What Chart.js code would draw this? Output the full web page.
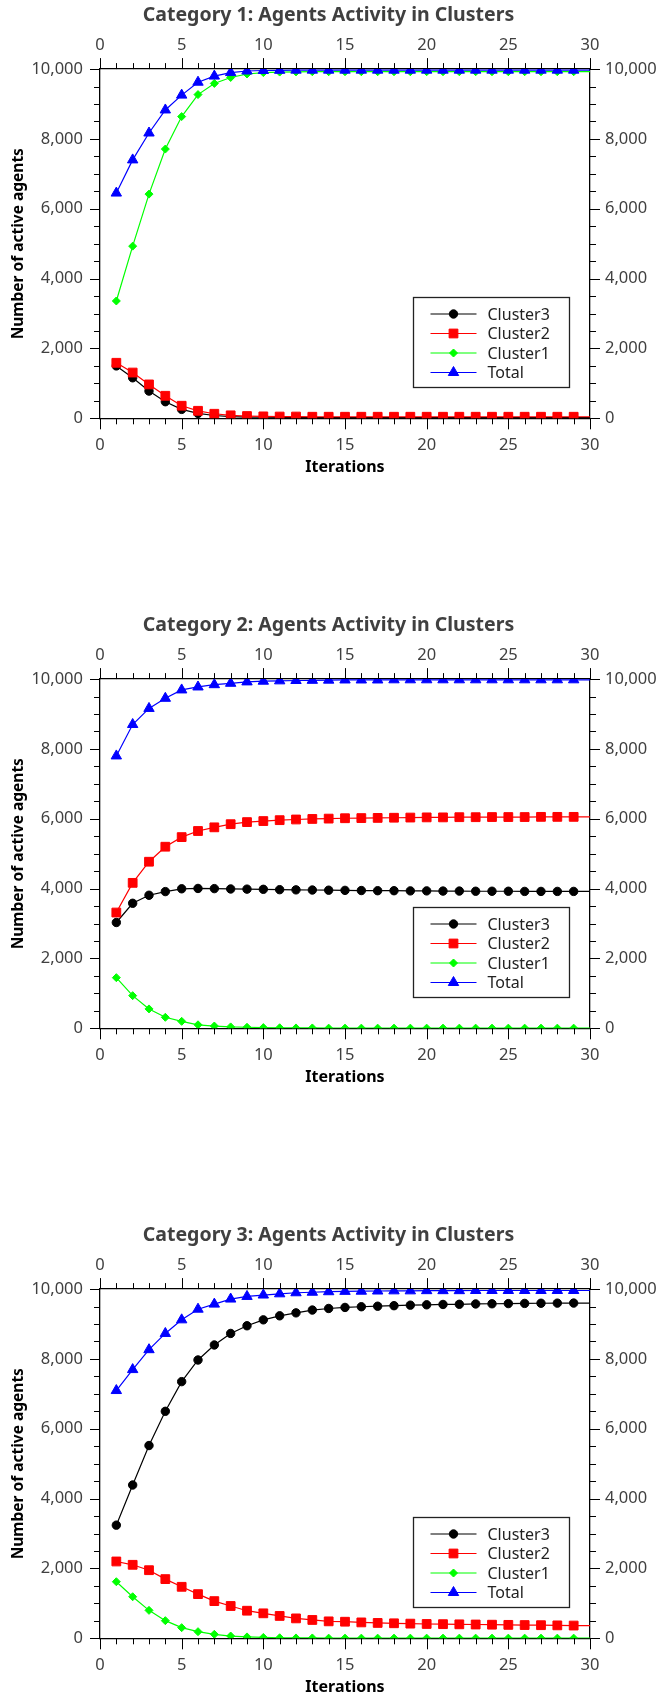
<!DOCTYPE html>
<html>
<head>
<meta charset="utf-8">
<script src="https://cdn.jsdelivr.net/npm/chart.js@4.4.1/dist/chart.umd.min.js"></script>
<style>
	body { margin: 0; background: #fff; }
	#wrap { width: 657px; height: 1696px; overflow: hidden; }
	canvas { display: block; }
</style>
</head>
<body>
<div id="wrap">
	<canvas id="chart1" width="657" height="610"></canvas>
	<canvas id="chart2" width="657" height="610"></canvas>
	<canvas id="chart3" width="657" height="610"></canvas>
</div>
<script>
// iterations on the x axis
const iterations = [1,2,3,4,5,6,7,8,9,10,11,12,13,14,15,16,17,18,19,20,21,22,23,24,25,26,27,28,29,30];
const seriesNames = ['Cluster3', 'Cluster2', 'Cluster1', 'Total'];
const titles = [
	'Category 1: Agents Activity in Clusters',
	'Category 2: Agents Activity in Clusters',
	'Category 3: Agents Activity in Clusters'
];
const xTickLabels = [0, 5, 10, 15, 20, 25, 30];
const yTickLabels = [0, 2000, 4000, 6000, 8000, 10000];

// category 1
const cat1Cluster3 = [1500,1160,780,475,255,140,80,50,35,30,25,25,20,20,20,20,20,20,20,20,20,20,20,20,20,20,20,20,20,20];
const cat1Cluster2 = [1590,1310,970,645,360,215,130,85,65,55,50,50,45,45,45,45,45,45,45,45,45,45,45,45,45,45,45,45,45,45];
const cat1Cluster1 = [3360,4930,6420,7710,8640,9270,9590,9760,9860,9900,9915,9920,9925,9925,9925,9925,9925,9925,9925,9925,9925,9925,9925,9925,9925,9925,9925,9925,9925,9925];
const cat1Total = [6450,7400,8170,8830,9255,9625,9800,9900,9945,9960,9965,9970,9970,9970,9970,9970,9970,9970,9970,9970,9970,9970,9970,9970,9970,9970,9970,9970,9970,9970];

// category 2
const cat2Cluster3 = [3030,3580,3810,3915,3995,4005,4000,3990,3985,3980,3970,3965,3960,3955,3950,3945,3940,3940,3935,3935,3930,3930,3925,3925,3925,3920,3920,3920,3920,3920];
const cat2Cluster2 = [3315,4165,4770,5200,5475,5650,5755,5845,5905,5935,5960,5980,5995,6005,6015,6020,6025,6030,6035,6040,6040,6045,6045,6050,6050,6050,6055,6055,6055,6055];
const cat2Cluster1 = [1450,935,555,315,200,100,65,40,30,20,15,10,10,5,5,5,5,5,5,5,5,5,5,5,5,5,5,5,5,5];
const cat2Total = [7800,8700,9160,9450,9690,9775,9840,9880,9920,9940,9950,9960,9965,9970,9975,9975,9975,9980,9980,9980,9980,9980,9980,9980,9980,9980,9980,9980,9980,9980];

// category 3
const cat3Cluster3 = [3240,4390,5520,6500,7350,7970,8400,8730,8950,9120,9235,9320,9400,9445,9475,9495,9510,9525,9540,9550,9560,9565,9575,9580,9585,9590,9595,9598,9600,9600];
const cat3Cluster2 = [2200,2105,1950,1695,1475,1265,1065,925,790,715,640,570,525,485,475,455,440,430,420,410,405,400,395,390,385,380,375,370,365,365];
const cat3Cluster1 = [1620,1190,800,505,305,190,115,65,40,25,15,10,10,5,5,5,5,5,5,5,5,5,5,5,5,5,5,5,5,5];
const cat3Total = [7095,7695,8265,8730,9120,9425,9570,9715,9790,9830,9865,9895,9910,9925,9935,9940,9945,9950,9950,9955,9955,9955,9960,9960,9960,9960,9960,9960,9960,9960];

const categories = [
	[cat1Cluster3, cat1Cluster2, cat1Cluster1, cat1Total],
	[cat2Cluster3, cat2Cluster2, cat2Cluster1, cat2Total],
	[cat3Cluster3, cat3Cluster2, cat3Cluster1, cat3Total]
];

const colors = ['#000000', '#ff0000', '#00ff00', '#0000ff'];
const pointStyles = ['circle', 'rect', 'rectRot', 'triangle'];
const pointSizes = [4.2, 6.2, 4, 6];

const fontFamily = "'Noto Sans', 'DejaVu Sans', sans-serif";
Chart.defaults.font.family = fontFamily;

// outward tick marks, long ones at labelled values
const tickMarks = {
	id: 'tickMarks',
	afterDraw(chart) {
		const ctx = chart.ctx;
		ctx.save();
		ctx.strokeStyle = '#000';
		ctx.lineWidth = 1;
		for (let scale of Object.values(chart.scales)) {
			let horiz = scale.isHorizontal();
			let major = horiz ? 5 : 2000;
			for (let t of scale.ticks) {
				let p = Math.round(scale.getPixelForValue(t.value)) + 0.5;
				let len = t.value % major === 0 ? (horiz ? 11 : 10) : 6;
				ctx.beginPath();
				if (scale.position === 'bottom') { ctx.moveTo(p, scale.top); ctx.lineTo(p, scale.top + len); }
				else if (scale.position === 'top') { ctx.moveTo(p, scale.bottom); ctx.lineTo(p, scale.bottom - len); }
				else if (scale.position === 'left') { ctx.moveTo(scale.right, p); ctx.lineTo(scale.right - len, p); }
				else { ctx.moveTo(scale.left, p); ctx.lineTo(scale.left + len, p); }
				ctx.stroke();
			}
		}
		ctx.restore();
	}
};

// boxed legend inside the plot, lower right
const boxLegend = {
	id: 'boxLegend',
	afterDraw(chart) {
		const ctx = chart.ctx;
		const area = chart.chartArea;
		const w = 156, h = 90;
		const x0 = Math.round(area.right - 21 - w) + 0.5;
		const y0 = Math.round(area.bottom - 31 - h) + 0.5;
		ctx.save();
		ctx.fillStyle = '#fff';
		ctx.fillRect(x0, y0, w, h);
		ctx.strokeStyle = '#222';
		ctx.lineWidth = 1.3;
		ctx.strokeRect(x0, y0, w, h);
		chart.data.datasets.forEach((ds, i) => {
			let y = y0 + 16.5 + i * 19.5;
			ctx.strokeStyle = ds.borderColor;
			ctx.lineWidth = 1.2;
			ctx.beginPath();
			ctx.moveTo(x0 + 17, y);
			ctx.lineTo(x0 + 63, y);
			ctx.stroke();
			ctx.fillStyle = ds.borderColor;
			ctx.lineWidth = 1;
			Chart.helpers.drawPoint(ctx, {
				pointStyle: ds.pointStyle,
				radius: pointSizes[i],
				rotation: 0,
				borderWidth: 1
			}, x0 + 40, y);
			ctx.fillStyle = '#222';
			ctx.font = '16px ' + fontFamily;
			ctx.textBaseline = 'middle';
			ctx.textAlign = 'left';
			ctx.fillText(ds.label, x0 + 74, y + 1);
		});
		ctx.restore();
	}
};

function xAxis(pos) {
	return {
		type: 'linear',
		position: pos,
		min: 0,
		max: 30,
		border: { color: '#000', width: 1.3 },
		grid: { drawOnChartArea: false, drawTicks: false },
		ticks: {
			stepSize: 1,
			autoSkip: false,
			maxRotation: 0,
			padding: pos === 'bottom' ? 17 : 14,
			color: '#404040',
			font: { size: 16.5 },
			callback: v => xTickLabels.includes(v) ? String(v) : ''
		}
	};
}

function yAxis(pos) {
	return {
		type: 'linear',
		position: pos,
		min: 0,
		max: 10000,
		border: { color: '#000', width: 1.3 },
		grid: { drawOnChartArea: false, drawTicks: false },
		ticks: {
			stepSize: 500,
			autoSkip: false,
			padding: pos === 'left' ? 17 : 15,
			color: '#404040',
			font: { size: 16.5 },
			callback: v => yTickLabels.includes(v) ? v.toLocaleString('en-US') : ''
		}
	};
}

function makeChart(id, title, series) {
	let datasets = series.map((values, i) => ({
		label: seriesNames[i],
		data: values.map((v, j) => ({ x: iterations[j], y: v })),
		borderColor: colors[i],
		backgroundColor: colors[i],
		borderWidth: 1.2,
		tension: 0,
		pointStyle: pointStyles[i],
		pointRadius: ctx => ctx.dataIndex === iterations.length - 1 ? 0 : pointSizes[i],
		pointBackgroundColor: colors[i],
		pointBorderColor: colors[i],
		pointBorderWidth: 1,
		order: 4 - i
	}));

	let x = xAxis('bottom');
	x.title = { display: true, text: 'Iterations', color: '#000', font: { size: 16, weight: 'bold' }, padding: { top: 0, bottom: 1 } };
	x.afterFit = s => { s.height = 60; };

	let x2 = xAxis('top');
	x2.afterFit = s => { s.height = 41.7; };

	let y = yAxis('left');
	y.title = { display: true, text: 'Number of active agents', color: '#000', font: { size: 15.5, weight: 'bold' }, padding: { top: 9, bottom: 0 } };
	y.afterFit = s => { s.width = 100; };

	let y2 = yAxis('right');
	y2.afterFit = s => { s.width = 67; };

	new Chart(document.getElementById(id), {
		type: 'line',
		data: { datasets: datasets },
		options: {
			responsive: false,
			animation: false,
			devicePixelRatio: 1,
			layout: { padding: { left: 0, right: 0, top: 0, bottom: 131.7 } },
			scales: { x: x, x2: x2, y: y, y2: y2 },
			plugins: {
				legend: { display: false },
				tooltip: { enabled: false },
				title: {
					display: true,
					text: title,
					color: '#404040',
					font: { size: 19.5, weight: 'bold' },
					padding: { top: 4, bottom: 0 }
				}
			}
		},
		plugins: [tickMarks, boxLegend]
	});
}

makeChart('chart1', titles[0], categories[0]);
makeChart('chart2', titles[1], categories[1]);
makeChart('chart3', titles[2], categories[2]);
</script>
</body>
</html>
